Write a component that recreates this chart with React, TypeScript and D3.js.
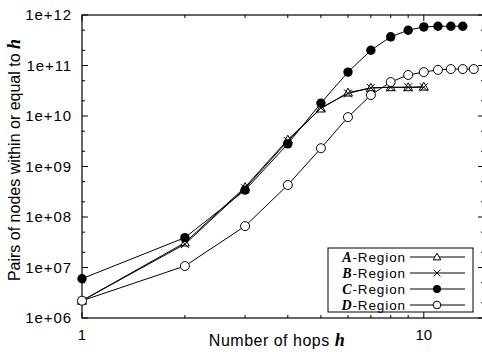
import * as d3 from "d3";

// hops per series
const hopsAB = [1, 2, 3, 4, 5, 6, 7, 8, 9, 10];
const hopsC = [1, 2, 3, 4, 5, 6, 7, 8, 9, 10, 11, 12, 13];
const hopsD = [1, 2, 3, 4, 5, 6, 7, 8, 9, 10, 11, 12, 13, 14];

// pairs of nodes within h hops
const regionA = [2.2e6, 3.1e7, 3.9e8, 3.4e9, 1.4e10, 2.9e10, 3.6e10, 3.7e10, 3.7e10, 3.8e10];
const regionB = [2.2e6, 2.9e7, 3.7e8, 3.2e9, 1.45e10, 2.8e10, 3.6e10, 3.7e10, 3.7e10, 3.7e10];
const regionC = [6.0e6, 3.9e7, 3.4e8, 2.8e9, 1.8e10, 7.4e10, 2.0e11, 3.7e11, 5.0e11, 5.8e11, 6.0e11, 6.0e11, 6.0e11];
const regionD = [2.2e6, 1.07e7, 6.6e7, 4.3e8, 2.3e9, 9.5e9, 2.6e10, 4.7e10, 6.5e10, 7.4e10, 8.2e10, 8.5e10, 8.5e10, 8.5e10];

const seriesNames = ["A", "B", "C", "D"];
const yTickValues = [1e6, 1e7, 1e8, 1e9, 1e10, 1e11, 1e12];
const yTickLabels = ["1e+06", "1e+07", "1e+08", "1e+09", "1e+10", "1e+11", "1e+12"];
const xTickValues = [1, 10];
const xTickLabels = ["1", "10"];
const xMinorTicks = [2, 3, 4, 5, 6, 7, 8, 9];

const W = 482;
const H = 352;
const left = 82;
const right = 484;
const top = 15;
const bottom = 318;

const sans = "'Liberation Sans', Arial, sans-serif";
const serif = "'Liberation Serif', 'Times New Roman', serif";

function Marker({ kind, x, y, s = 1 }: { kind: string; x: number; y: number; s?: number }) {
  if (kind === "A") {
    const r = 4.5 * s;
    return (
      <path
        d={`M${x},${y - r}L${x + r},${y + r * 0.75}L${x - r},${y + r * 0.75}Z`}
        fill="white"
        stroke="black"
        strokeWidth={1}
      />
    );
  }
  if (kind === "B") {
    const r = 4 * s;
    return (
      <path
        d={`M${x - r},${y - r}L${x + r},${y + r}M${x - r},${y + r}L${x + r},${y - r}`}
        stroke="black"
        strokeWidth={1}
      />
    );
  }
  if (kind === "C") return <circle cx={x} cy={y} r={4.7 * s} fill="black" />;
  return <circle cx={x} cy={y} r={4.5 * s} fill="white" stroke="black" strokeWidth={1} />;
}

export default function App() {
  const x = d3.scaleLog().domain([1, 15]).range([left, right]);
  const y = d3.scaleLog().domain([1e6, 1e12]).range([bottom, top]);

  const series = [
    { name: "A", hops: hopsAB, vals: regionA },
    { name: "B", hops: hopsAB, vals: regionB },
    { name: "C", hops: hopsC, vals: regionC },
    { name: "D", hops: hopsD, vals: regionD },
  ];

  const line = d3
    .line<[number, number]>()
    .x((d) => x(d[0]))
    .y((d) => y(d[1]));

  const yMinor: number[] = [];
  yTickValues.slice(0, -1).forEach((v) => {
    yMinor.push(v * 2, v * 5);
  });

  const legX = 328;
  const legY = 248;
  const legW = 145;
  const legH = 64;
  const rowH = 16;

  return (
    <svg
      width={W}
      height={H}
      style={{ position: "absolute", left: 0, top: 0, background: "white" }}
    >
      <rect width={W} height={H} fill="white" />
      {/* frame */}
      <rect x={left} y={top} width={right - left} height={bottom - top} fill="none" stroke="black" strokeWidth={1.2} />

      {/* y ticks */}
      {yTickValues.map((v, i) => (
        <g key={"yt" + i}>
          <line x1={left} x2={left + 6} y1={y(v)} y2={y(v)} stroke="black" />
          <line x1={right - 6} x2={right} y1={y(v)} y2={y(v)} stroke="black" />
          <text x={72} y={y(v)} dy="0.35em" textAnchor="end" fontFamily={sans} fontSize={15} letterSpacing={0.9}>
            {yTickLabels[i]}
          </text>
        </g>
      ))}
      {yMinor.map((v, i) => (
        <g key={"ym" + i}>
          <line x1={left} x2={left + 3} y1={y(v)} y2={y(v)} stroke="black" />
          <line x1={right - 3} x2={right} y1={y(v)} y2={y(v)} stroke="black" />
        </g>
      ))}

      {/* x ticks */}
      {xTickValues.map((v, i) => (
        <g key={"xt" + i}>
          <line x1={x(v)} x2={x(v)} y1={bottom} y2={bottom - 6} stroke="black" />
          <line x1={x(v)} x2={x(v)} y1={top} y2={top + 6} stroke="black" />
          <text x={x(v)} y={340} textAnchor="middle" fontFamily={sans} fontSize={15}>
            {xTickLabels[i]}
          </text>
        </g>
      ))}
      {xMinorTicks.map((v, i) => (
        <g key={"xm" + i}>
          <line x1={x(v)} x2={x(v)} y1={bottom} y2={bottom - 3} stroke="black" />
          <line x1={x(v)} x2={x(v)} y1={top} y2={top + 3} stroke="black" />
        </g>
      ))}

      {/* axis labels */}
      <text x={277} y={346} textAnchor="middle" fontFamily={sans} fontSize={16} letterSpacing={0.5}>
        Number of hops{" "}
        <tspan fontFamily={serif} fontWeight="bold" fontStyle="italic" fontSize={18}>
          h
        </tspan>
      </text>
      <text
        transform={`translate(20,160) rotate(-90)`}
        textAnchor="middle"
        fontFamily={sans}
        fontSize={16}
      >
        Pairs of nodes within or equal to{" "}
        <tspan fontFamily={serif} fontWeight="bold" fontStyle="italic" fontSize={18}>
          h
        </tspan>
      </text>

      {/* series */}
      {series.map((s) => {
        const pts = s.hops.map((h, i) => [h, s.vals[i]] as [number, number]);
        return (
          <g key={s.name}>
            <path d={line(pts) || ""} fill="none" stroke="black" strokeWidth={1} />
            {pts.map((p, i) => (
              <Marker key={i} kind={s.name} x={x(p[0])} y={y(p[1])} />
            ))}
          </g>
        );
      })}

      {/* legend */}
      <rect x={legX} y={legY} width={legW} height={legH} fill="white" stroke="black" strokeWidth={1} />
      {seriesNames.map((n, i) => {
        const ry = legY + 9 + i * rowH;
        return (
          <g key={"lg" + n}>
            <text x={406} y={ry} dy="0.35em" textAnchor="end" fontFamily={sans} fontSize={13.5} letterSpacing={0.9}>
              <tspan fontFamily={serif} fontWeight="bold" fontStyle="italic" fontSize={14}>
                {n}
              </tspan>
              -Region
            </text>
            <line x1={410} x2={465} y1={ry} y2={ry} stroke="black" strokeWidth={1} />
            <Marker kind={n} x={437} y={ry} s={0.85} />
          </g>
        );
      })}
    </svg>
  );
}
